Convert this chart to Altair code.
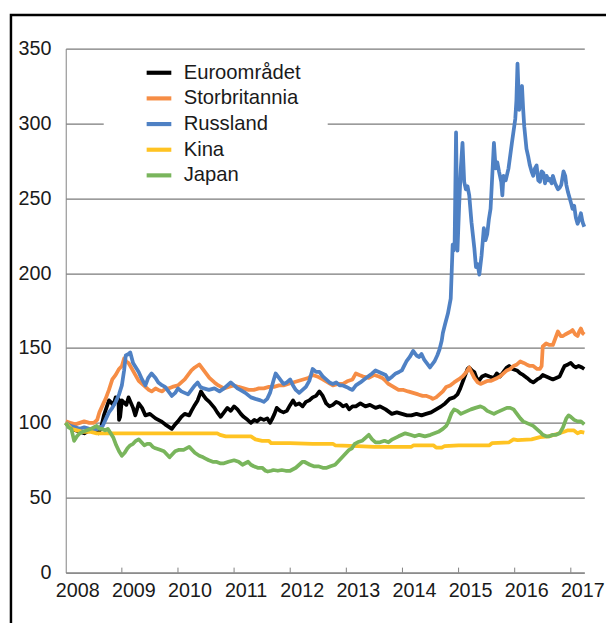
import altair as alt
import pandas as pd

names = ["Euroområdet", "Storbritannia", "Russland", "Kina", "Japan"]
colors = ["#000000", "#F68D45", "#4F81C4", "#FFC322", "#79B55C"]
year_ticks = [2008, 2009, 2010, 2011, 2012, 2013, 2014, 2015, 2016, 2017]
y_ticks = [0, 50, 100, 150, 200, 250, 300, 350]

euro = [(2008.0,100),(2008.08,97),(2008.17,95),(2008.25,94),(2008.33,93),(2008.42,95),(2008.5,94),(2008.58,93),
(2008.63,97),(2008.68,105),(2008.77,115),(2008.85,112),(2008.89,117),(2008.94,116),(2008.95,102),(2008.97,104),
(2009.0,115),(2009.08,112),(2009.12,117),(2009.2,110),(2009.24,105),(2009.3,113),(2009.36,110),(2009.42,105),
(2009.5,106),(2009.6,103),(2009.7,101),(2009.77,99),(2009.85,97),(2009.89,96),(2009.95,99),(2010.0,101),
(2010.06,104),(2010.12,106),(2010.2,105),(2010.24,108),(2010.3,112),(2010.35,115),(2010.41,121),(2010.46,118),
(2010.5,116),(2010.56,114),(2010.65,110),(2010.7,107),(2010.76,104),(2010.82,107),(2010.88,110),(2010.94,108),
(2011.0,111),(2011.06,109),(2011.12,106),(2011.17,104),(2011.24,102),(2011.3,100),(2011.36,102),(2011.41,101),
(2011.47,103),(2011.53,102),(2011.59,103),(2011.64,100),(2011.67,102),(2011.72,106),(2011.76,110),(2011.82,108),
(2011.88,107),(2011.94,108),(2012.0,112),(2012.05,115),(2012.1,112),(2012.16,113),(2012.22,111),(2012.28,114),
(2012.34,115),(2012.4,117),(2012.46,118),(2012.52,121),(2012.58,118),(2012.64,113),(2012.7,111),(2012.76,112),
(2012.82,114),(2012.88,113),(2012.94,111),(2013.0,112),(2013.05,109),(2013.11,111),(2013.17,111),(2013.25,113),
(2013.34,111),(2013.42,112),(2013.52,110),(2013.6,111),(2013.7,109),(2013.81,106),(2013.9,107),(2013.99,106),
(2014.08,105),(2014.16,105),(2014.25,106),(2014.34,105),(2014.42,106),(2014.51,107),(2014.6,109),(2014.69,111),
(2014.76,113),(2014.84,116),(2014.92,117),(2014.98,119),(2015.03,123),(2015.07,127),(2015.12,132),(2015.16,136),
(2015.19,137),(2015.24,135),(2015.28,134),(2015.32,130),(2015.36,128),(2015.42,131),(2015.48,132),(2015.55,131),
(2015.63,130),(2015.68,133),(2015.74,131),(2015.8,134),(2015.86,137),(2015.9,138),(2015.96,136),(2016.04,135),
(2016.1,133),(2016.15,132),(2016.22,130),(2016.28,128),(2016.33,127),(2016.4,129),(2016.45,130),(2016.5,132),
(2016.56,131),(2016.62,130),(2016.68,129),(2016.74,130),(2016.8,131),(2016.85,135),(2016.89,138),(2016.95,139),
(2017.0,140),(2017.05,138),(2017.09,137),(2017.14,138),(2017.2,137),(2017.24,136)]

storbritannia = [(2008.0,101),(2008.08,100),(2008.17,99),(2008.25,100),(2008.33,101),(2008.42,100),(2008.5,100),
(2008.56,102),(2008.6,107),(2008.66,112),(2008.71,116),(2008.77,122),(2008.83,129),(2008.89,132),(2008.95,136),
(2009.0,138),(2009.04,143),(2009.08,141),(2009.12,140),(2009.18,136),(2009.24,132),(2009.3,128),(2009.36,126),
(2009.42,124),(2009.48,122),(2009.53,121),(2009.6,123),(2009.65,122),(2009.72,121),(2009.78,123),(2009.83,123),
(2009.9,124),(2010.0,125),(2010.06,127),(2010.12,129),(2010.18,132),(2010.24,135),(2010.3,137),(2010.38,139),
(2010.44,136),(2010.5,133),(2010.56,130),(2010.65,127),(2010.72,125),(2010.82,123),(2010.9,124),(2011.0,125),
(2011.08,124),(2011.17,123),(2011.26,122),(2011.35,122),(2011.44,123),(2011.53,123),(2011.62,124),(2011.71,124),
(2011.8,125),(2011.88,125),(2011.96,126),(2012.05,127),(2012.14,128),(2012.23,129),(2012.32,130),(2012.4,132),
(2012.48,131),(2012.58,129),(2012.67,127),(2012.76,125),(2012.85,126),(2012.94,126),(2013.03,128),(2013.11,129),
(2013.17,133),(2013.23,132),(2013.3,131),(2013.4,130),(2013.5,132),(2013.58,131),(2013.64,130),(2013.7,128),
(2013.75,126),(2013.84,124),(2013.93,122),(2014.02,122),(2014.1,121),(2014.19,120),(2014.28,119),(2014.36,118),
(2014.43,118),(2014.5,117),(2014.54,116),(2014.6,117),(2014.66,119),(2014.72,121),(2014.78,124),(2014.85,125),
(2014.92,127),(2015.0,129),(2015.07,131),(2015.14,134),(2015.19,137),(2015.24,133),(2015.28,130),(2015.34,127),
(2015.39,126),(2015.45,127),(2015.51,128),(2015.57,128),(2015.63,129),(2015.69,130),(2015.74,131),(2015.8,133),
(2015.86,135),(2015.92,136),(2015.98,138),(2016.04,139),(2016.1,141),(2016.16,140),(2016.21,139),(2016.27,138),
(2016.33,138),(2016.4,136),(2016.45,136),(2016.48,138),(2016.5,151),(2016.56,153),(2016.62,152),(2016.68,152),
(2016.72,156),(2016.77,161),(2016.82,158),(2016.86,158),(2016.9,159),(2016.95,160),(2017.0,161),(2017.03,162),
(2017.08,159),(2017.12,158),(2017.15,161),(2017.18,163),(2017.21,160),(2017.24,159)]

russland = [(2008.0,100),(2008.08,98),(2008.17,97),(2008.25,96),(2008.33,97),(2008.42,96),(2008.5,95),(2008.58,96),
(2008.66,98),(2008.72,103),(2008.77,107),(2008.83,110),(2008.89,114),(2008.95,119),(2009.0,125),(2009.04,135),
(2009.07,145),(2009.12,146),(2009.15,147),(2009.2,140),(2009.25,137),(2009.3,134),(2009.36,129),(2009.42,125),
(2009.47,130),(2009.53,133),(2009.6,130),(2009.65,127),(2009.72,125),(2009.77,124),(2009.83,121),(2009.89,118),
(2009.95,120),(2010.0,123),(2010.06,121),(2010.12,120),(2010.18,119),(2010.24,122),(2010.3,125),(2010.35,127),
(2010.4,124),(2010.46,123),(2010.55,122),(2010.65,123),(2010.74,121),(2010.82,123),(2010.88,125),(2010.94,127),
(2011.0,125),(2011.06,123),(2011.11,122),(2011.2,120),(2011.3,117),(2011.38,116),(2011.47,115),(2011.53,114),
(2011.59,116),(2011.64,120),(2011.7,128),(2011.74,133),(2011.8,130),(2011.88,126),(2011.94,127),(2012.0,129),
(2012.05,125),(2012.1,122),(2012.16,120),(2012.22,122),(2012.28,124),(2012.34,128),(2012.4,136),(2012.46,134),
(2012.52,134),(2012.58,131),(2012.64,129),(2012.7,127),(2012.76,126),(2012.82,127),(2012.88,125),(2012.94,125),
(2013.0,124),(2013.05,123),(2013.11,122),(2013.17,125),(2013.25,127),(2013.35,130),(2013.46,133),(2013.52,135),
(2013.58,134),(2013.64,133),(2013.7,132),(2013.75,129),(2013.82,131),(2013.88,133),(2013.94,134),(2013.99,135),
(2014.03,138),(2014.07,141),(2014.13,144),(2014.19,148),(2014.25,145),(2014.3,144),(2014.34,146),(2014.39,142),
(2014.43,140),(2014.49,137),(2014.53,139),(2014.57,141),(2014.62,145),(2014.66,149),(2014.7,155),(2014.72,160),
(2014.76,166),(2014.81,173),(2014.86,183),(2014.895,219),(2014.91,215),(2014.93,221),(2014.955,294),(2014.97,250),
(2014.98,215),(2015.01,245),(2015.04,270),(2015.07,287),(2015.1,261),(2015.13,256),(2015.16,258),(2015.19,252),
(2015.23,234),(2015.28,217),(2015.31,204),(2015.34,206),(2015.37,199),(2015.41,212),(2015.45,230),(2015.48,222),
(2015.51,226),(2015.54,236),(2015.57,243),(2015.6,265),(2015.63,287),(2015.66,270),(2015.69,274),(2015.72,268),
(2015.76,261),(2015.78,252),(2015.8,265),(2015.84,262),(2015.89,270),(2015.95,287),(2016.01,303),(2016.03,315),
(2016.05,340),(2016.07,320),(2016.08,309),(2016.1,318),(2016.13,325),(2016.15,310),(2016.17,298),(2016.21,283),
(2016.24,278),(2016.27,272),(2016.3,268),(2016.33,265),(2016.36,270),(2016.39,272),(2016.42,262),(2016.45,261),
(2016.48,268),(2016.51,267),(2016.54,260),(2016.57,265),(2016.6,262),(2016.62,263),(2016.66,260),(2016.68,265),
(2016.72,260),(2016.77,256),(2016.8,257),(2016.83,259),(2016.87,268),(2016.9,265),(2016.92,259),(2016.95,254),
(2016.98,250),(2017.01,246),(2017.03,243),(2017.06,245),(2017.09,237),(2017.12,233),(2017.15,236),(2017.18,240),
(2017.21,234),(2017.24,231)]

kina = [(2008.0,100),(2008.05,98),(2008.1,96),(2008.2,95),(2008.3,94),(2008.45,94),(2008.55,93),(2008.7,93),
(2009.0,93),(2009.5,93),(2010.0,93),(2010.4,93),(2010.7,93),(2010.75,92),(2010.85,91),(2010.95,91),(2011.3,91),
(2011.38,89),(2011.5,88),(2011.62,88),(2011.66,86.5),(2012.0,86.5),(2012.4,86),(2012.76,86),(2012.8,85),
(2013.2,84.5),(2013.5,84),(2014.0,84),(2014.16,84),(2014.2,85),(2014.55,85),(2014.6,83.5),(2014.7,83.5),
(2014.75,84.5),(2015.0,85),(2015.55,85),(2015.6,86.5),(2015.9,87),(2015.98,89),(2016.05,88.5),(2016.3,89),
(2016.45,90.5),(2016.6,91),(2016.75,92.5),(2016.88,94),(2016.95,95),(2017.05,95),(2017.12,93),(2017.18,94),
(2017.24,93.5)]

japan = [(2008.0,100),(2008.05,97),(2008.1,96),(2008.15,88),(2008.2,91),(2008.25,93),(2008.3,94),(2008.38,95),
(2008.45,96),(2008.5,97),(2008.55,98),(2008.6,96),(2008.65,96),(2008.7,95),(2008.75,96),(2008.8,93),(2008.85,90),
(2008.9,85),(2008.95,81),(2009.0,78),(2009.05,80),(2009.1,83),(2009.15,85),(2009.2,86),(2009.25,88),(2009.3,89),
(2009.35,87),(2009.4,85),(2009.45,86),(2009.5,86),(2009.55,84),(2009.6,83),(2009.68,82),(2009.75,81),(2009.8,79),
(2009.85,77),(2009.9,79),(2009.95,81),(2010.02,82),(2010.1,82),(2010.15,83),(2010.2,84),(2010.25,82),(2010.3,80),
(2010.38,78),(2010.45,77),(2010.5,76),(2010.55,75),(2010.62,74),(2010.68,74),(2010.75,73),(2010.82,73),(2010.9,74),
(2011.0,75),(2011.08,74),(2011.15,72),(2011.2,73),(2011.25,74),(2011.3,72),(2011.35,71),(2011.42,70),(2011.5,70),
(2011.56,68),(2011.6,67.5),(2011.66,68),(2011.7,68.5),(2011.78,68),(2011.85,68.5),(2011.92,68),(2012.0,68),
(2012.05,69),(2012.1,70),(2012.16,72),(2012.22,74),(2012.25,74),(2012.3,73),(2012.35,72),(2012.42,71),(2012.5,71),
(2012.58,70),(2012.65,70),(2012.72,71),(2012.8,72),(2012.85,74),(2012.9,76),(2012.95,78),(2013.0,80),(2013.05,82),
(2013.1,83),(2013.15,86),(2013.2,87),(2013.28,88),(2013.34,90),(2013.4,92),(2013.46,89),(2013.52,87),(2013.6,87),
(2013.68,88),(2013.75,87),(2013.82,89),(2013.93,91),(2014.05,93),(2014.14,92),(2014.22,91),(2014.3,92),(2014.4,91),
(2014.5,92),(2014.57,93),(2014.64,94),(2014.72,96),(2014.78,98),(2014.81,100),(2014.84,103),(2014.87,106),
(2014.92,109),(2014.98,108),(2015.04,106),(2015.1,107),(2015.16,108),(2015.22,109),(2015.3,110),(2015.39,111),
(2015.45,110),(2015.51,108),(2015.57,107),(2015.63,106),(2015.68,107),(2015.74,108),(2015.8,109),(2015.86,110),
(2015.92,110),(2015.98,109),(2016.04,106),(2016.1,103),(2016.15,101),(2016.21,100),(2016.27,99),(2016.33,98),
(2016.39,96),(2016.45,94),(2016.5,92),(2016.56,91),(2016.62,91),(2016.68,92),(2016.74,92),(2016.8,93),(2016.86,97),
(2016.92,103),(2016.96,105),(2017.0,104),(2017.06,102),(2017.12,101),(2017.18,101),(2017.24,99)]

series = [euro, storbritannia, russland, kina, japan]
rows = []
for n, s in zip(names, series):
    for t, v in s:
        rows.append({"serie": n, "aar": t, "verdi": v})
df = pd.DataFrame(rows)

W, H = 525.5, 531
FONT = "Liberation Sans"
XDOM = [2008, 2017.24]
LABEL_SHIFT = 0.205  # labels sit a little right of each year tick
label_pos = [y + LABEL_SHIFT for y in year_ticks]

xs = alt.X("aar:Q", scale=alt.Scale(domain=XDOM, nice=False, zero=False),
           axis=alt.Axis(values=label_pos, labelExpr="floor(datum.value)", ticks=False,
                         labelFlush=False, labelOverlap=False, labelPadding=8, labelFontSize=20,
                         labelFont=FONT, labelColor="#1a1a1a", domainColor="#808080",
                         grid=False, title=None))
ys = alt.Y("verdi:Q", scale=alt.Scale(domain=[0, 350], nice=False),
           axis=alt.Axis(values=y_ticks, ticks=False, labelPadding=15, labelFontSize=20,
                         labelFont=FONT, labelColor="#1a1a1a", domainColor="#808080",
                         grid=True, gridColor="#7a7a7a", gridWidth=1.2, title=None))
col = alt.Color("serie:N", scale=alt.Scale(domain=names, range=colors),
                legend=alt.Legend(title=None, orient="none", legendX=79.5, legendY=9.5,
                                  symbolType="stroke", symbolSize=625, symbolStrokeWidth=4.2,
                                  labelFontSize=20.5, labelFont=FONT, labelColor="#1a1a1a",
                                  labelOffset=10, rowPadding=0, padding=0))

one = pd.DataFrame({"k": [0]})
cover = alt.Chart(one).mark_rect(fill="white").encode(
    x=alt.value(38.5), x2=alt.value(265.5), y=alt.value(62), y2=alt.value(90))
ticks_df = pd.DataFrame({"aar": year_ticks[1:]})
tick_rules = alt.Chart(ticks_df).mark_rule(color="#808080", strokeWidth=1).encode(
    x=alt.X("aar:Q", scale=alt.Scale(domain=XDOM, nice=False, zero=False)),
    y=alt.value(H - 5), y2=alt.value(H))
frame = alt.Chart(one).mark_rect(filled=False, stroke="black", strokeWidth=2.5).encode(
    x=alt.value(-55.5), x2=alt.value(700), y=alt.value(-34), y2=alt.value(700))

lines = [
    alt.Chart(df).transform_filter(alt.datum.serie == n).mark_line(
        strokeWidth=3.8, strokeJoin="round").encode(x=xs, y=ys, color=col)
    for n in names
]

chart = alt.layer(cover, tick_rules, *lines, frame).properties(
    width=W, height=H,
    padding={"left": 58.5, "top": 37, "right": 22, "bottom": 47},
    autosize=alt.AutoSizeParams(type="none"),
).configure_view(stroke=None)

chart.save("out.html", embed_options={"renderer": "svg", "actions": False})
